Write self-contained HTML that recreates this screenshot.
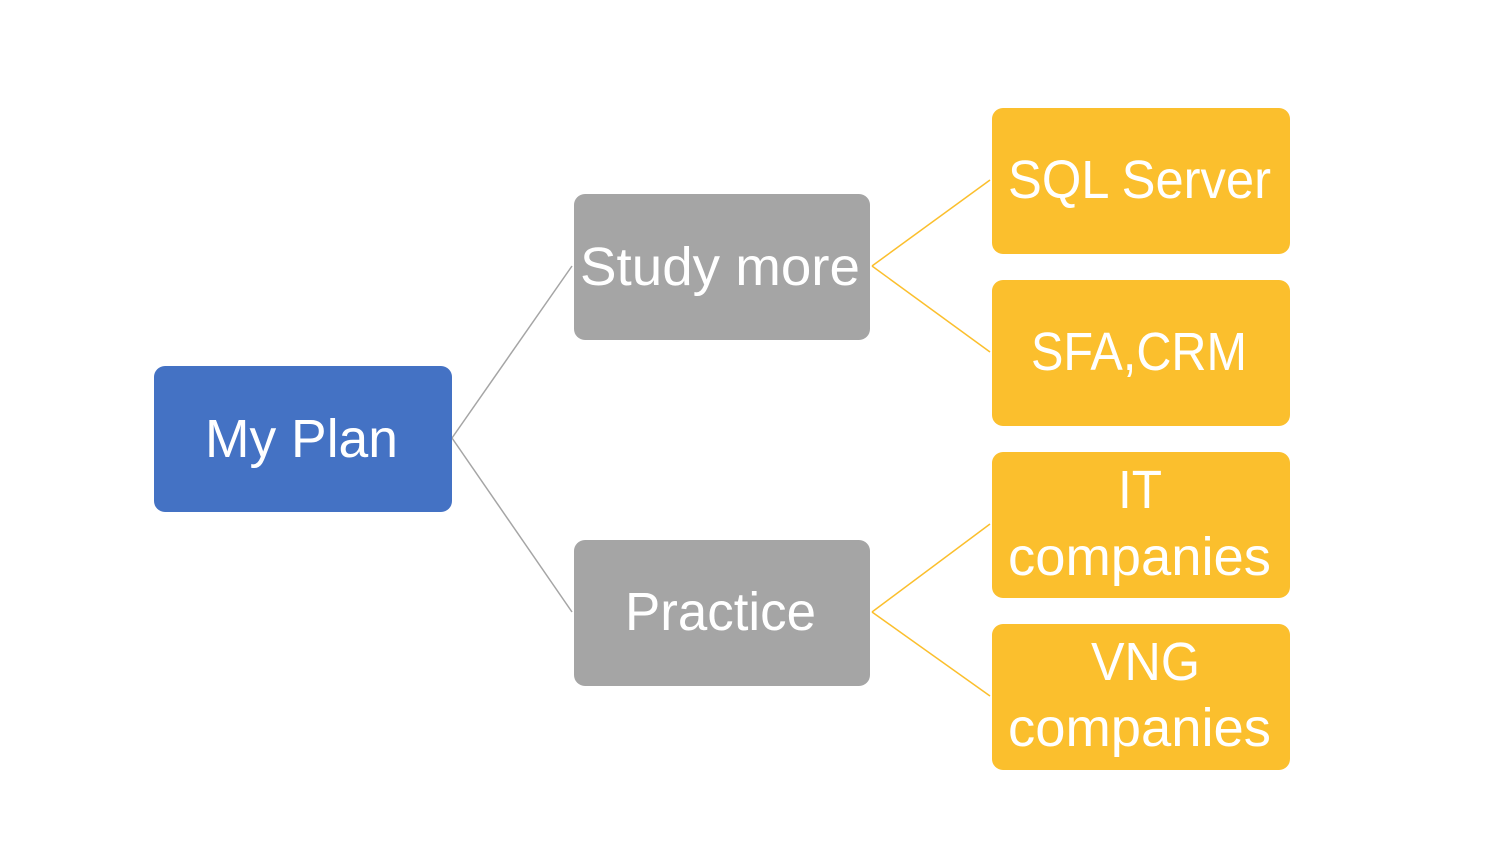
<!DOCTYPE html>
<html><head><meta charset="utf-8"><style>html,body{margin:0;padding:0;background:#fff}svg{display:block}</style></head>
<body>
<svg width="1494" height="864" viewBox="0 0 1494 864" xmlns="http://www.w3.org/2000/svg">
<g stroke-width="1.5" fill="none">
<line x1="452" y1="438" x2="572" y2="266" stroke="#A5A5A5"/>
<line x1="452" y1="438" x2="572" y2="612" stroke="#A5A5A5"/>
<line x1="872" y1="266" x2="990" y2="180" stroke="#FBBF2D"/>
<line x1="872" y1="266" x2="990" y2="352" stroke="#FBBF2D"/>
<line x1="872" y1="612" x2="990" y2="524" stroke="#FBBF2D"/>
<line x1="872" y1="612" x2="990" y2="696" stroke="#FBBF2D"/>
</g>
<rect x="154" y="366" width="298" height="146" rx="11" fill="#4472C4"/>
<rect x="574" y="194" width="296" height="146" rx="11" fill="#A5A5A5"/>
<rect x="574" y="540" width="296" height="146" rx="11" fill="#A5A5A5"/>
<rect x="992" y="108" width="298" height="146" rx="11" fill="#FBBF2D"/>
<rect x="992" y="280" width="298" height="146" rx="11" fill="#FBBF2D"/>
<rect x="992" y="452" width="298" height="146" rx="11" fill="#FBBF2D"/>
<rect x="992" y="624" width="298" height="146" rx="11" fill="#FBBF2D"/>
<g fill="#fff" font-family="Liberation Sans, sans-serif" font-size="54" lengthAdjust="spacingAndGlyphs">
<text x="205" y="457" textLength="193" lengthAdjust="spacingAndGlyphs">My Plan</text>
<text x="580" y="285" textLength="280" lengthAdjust="spacingAndGlyphs">Study more</text>
<text x="625" y="630" textLength="191" lengthAdjust="spacingAndGlyphs">Practice</text>
<text x="1008" y="198" textLength="263" lengthAdjust="spacingAndGlyphs">SQL Server</text>
<text x="1031" y="370" textLength="216" lengthAdjust="spacingAndGlyphs">SFA,CRM</text>
<text x="1118" y="508" textLength="44" lengthAdjust="spacingAndGlyphs">IT</text>
<text x="1008" y="575" textLength="263" lengthAdjust="spacingAndGlyphs">companies</text>
<text x="1091" y="680" textLength="109" lengthAdjust="spacingAndGlyphs">VNG</text>
<text x="1008" y="746" textLength="263" lengthAdjust="spacingAndGlyphs">companies</text>
</g>
</svg>
</body></html>
